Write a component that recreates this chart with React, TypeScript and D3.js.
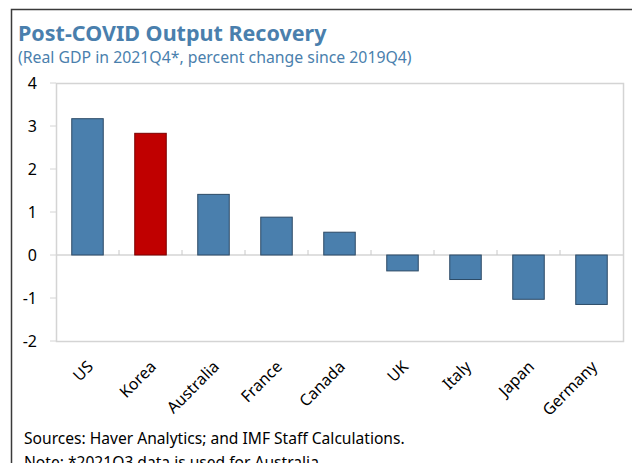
import React, { useEffect, useRef } from 'react';
import * as d3 from 'd3';

// Real GDP 2021Q4 vs 2019Q4, percent change
const countries = ['US', 'Korea', 'Australia', 'France', 'Canada', 'UK', 'Italy', 'Japan', 'Germany'];
const gdpChange = [3.17, 2.83, 1.41, 0.88, 0.53, -0.37, -0.57, -1.03, -1.15];
const yTicks = [-2, -1, 0, 1, 2, 3, 4];

const BLUE = '#4a7fad';
const RED = '#c00000';
const FONT = '"Noto Sans", "Open Sans", sans-serif';

export default function App() {
  const svgRef = useRef<SVGSVGElement>(null);

  useEffect(() => {
    if (!svgRef.current) return;
    const width = 632;
    const height = 463;
    const margin = { top: 83, right: 9, bottom: 122, left: 56 };
    const innerWidth = width - margin.left - margin.right;
    const innerHeight = height - margin.top - margin.bottom;

    d3.select(svgRef.current).selectAll('*').remove();
    const svg = d3.select(svgRef.current)
      .attr('width', width)
      .attr('height', height)
      .style('font-family', FONT);

    // outer frame (left and top edges)
    svg.append('path')
      .attr('d', `M11.5,${height} L11.5,9.5 L${width},9.5`)
      .attr('fill', 'none')
      .attr('stroke', '#3a3a3a')
      .attr('stroke-width', 1.5);

    svg.append('text')
      .attr('x', 18)
      .attr('y', 41)
      .style('font-size', '21.5px')
      .style('font-weight', '700')
      .style('fill', BLUE)
      .text('Post-COVID Output Recovery');

    svg.append('text')
      .attr('x', 18)
      .attr('y', 63)
      .style('font-size', '15.8px')
      .style('fill', BLUE)
      .text('(Real GDP in 2021Q4*, percent change since 2019Q4)');

    const g = svg.append('g')
      .attr('transform', `translate(${margin.left},${margin.top})`);

    const xScale = d3.scaleBand()
      .domain(countries)
      .range([0, innerWidth])
      .paddingInner(0.5)
      .paddingOuter(0.25);

    const yScale = d3.scaleLinear()
      .domain([-2, 4])
      .range([innerHeight, 0]);

    // plot frame
    g.append('rect')
      .attr('x', 0.5)
      .attr('y', 0.5)
      .attr('width', innerWidth)
      .attr('height', innerHeight)
      .attr('fill', 'none')
      .attr('stroke', '#d4d4d4')
      .attr('stroke-width', 1.5);

    // y ticks
    g.selectAll('.ytick')
      .data(yTicks)
      .enter()
      .append('line')
      .attr('x1', -6)
      .attr('x2', 0)
      .attr('y1', d => yScale(d))
      .attr('y2', d => yScale(d))
      .attr('stroke', '#d4d4d4')
      .attr('stroke-width', 1);

    g.selectAll('.ylabel')
      .data(yTicks)
      .enter()
      .append('text')
      .attr('x', -19)
      .attr('y', d => yScale(d))
      .attr('dy', '0.35em')
      .attr('text-anchor', 'end')
      .style('font-size', '16px')
      .style('fill', '#000')
      .text(d => String(d));

    // zero line
    g.append('line')
      .attr('x1', 0)
      .attr('x2', innerWidth)
      .attr('y1', yScale(0))
      .attr('y2', yScale(0))
      .attr('stroke', '#d4d4d4')
      .attr('stroke-width', 1.5);

    // category separator ticks on the zero line
    const step = xScale.step();
    g.selectAll('.xtick')
      .data(countries.slice(1))
      .enter()
      .append('line')
      .attr('x1', (_d, i) => (i + 1) * step)
      .attr('x2', (_d, i) => (i + 1) * step)
      .attr('y1', yScale(0))
      .attr('y2', yScale(0) - 5)
      .attr('stroke', '#c8c8c8')
      .attr('stroke-width', 1);

    // bars
    g.selectAll('.bar')
      .data(countries)
      .enter()
      .append('rect')
      .attr('x', d => xScale(d)!)
      .attr('width', xScale.bandwidth())
      .attr('y', (_d, i) => yScale(Math.max(0, gdpChange[i])))
      .attr('height', (_d, i) => Math.abs(yScale(gdpChange[i]) - yScale(0)))
      .attr('fill', d => (d === 'Korea' ? RED : BLUE))
      .attr('stroke', d => (d === 'Korea' ? '#7a0000' : '#2c4a66'))
      .attr('stroke-width', 1);

    // x labels, rotated
    g.selectAll('.xlabel')
      .data(countries)
      .enter()
      .append('text')
      .attr('text-anchor', 'end')
      .attr('transform', d => `translate(${xScale(d)! + xScale.bandwidth() / 2 + 1},${innerHeight + 21}) rotate(-45)`)
      .attr('dy', '0.5em')
      .style('font-size', '16px')
      .style('fill', '#000')
      .text(d => d);

    svg.append('text')
      .attr('x', 24)
      .attr('y', 444)
      .style('font-size', '15.6px')
      .style('fill', '#000')
      .text('Sources: Haver Analytics; and IMF Staff Calculations.');

    svg.append('text')
      .attr('x', 24)
      .attr('y', 468)
      .style('font-size', '15.6px')
      .style('fill', '#000')
      .text('Note: *2021Q3 data is used for Australia.');
  }, []);

  return (
    <div style={{ position: 'absolute', left: 0, top: 0 }}>
      <svg ref={svgRef} style={{ display: 'block' }} />
    </div>
  );
}
